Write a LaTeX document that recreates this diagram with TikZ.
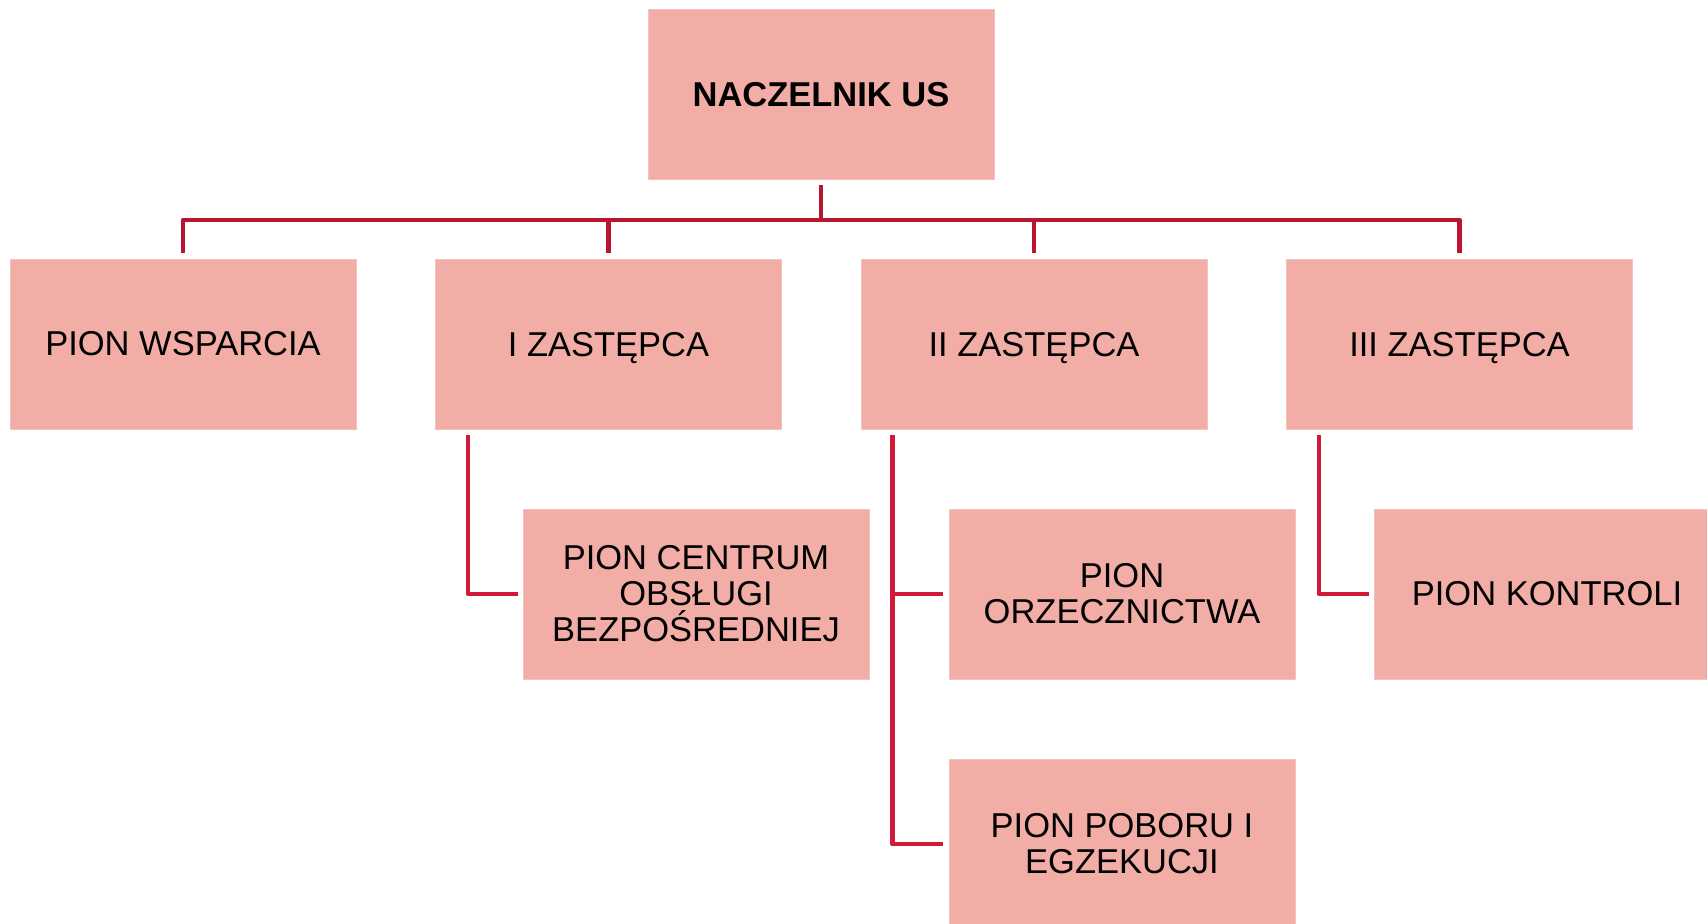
\documentclass[tikz,border=0pt]{standalone}
\usepackage{fontspec}
\setmainfont{Liberation Sans}
\definecolor{boxfill}{HTML}{F2ADA6}
\definecolor{boxedge}{HTML}{F5C3BE}
\definecolor{busred}{HTML}{BA1530}
\definecolor{subred}{HTML}{D01A37}
\begin{document}
\begin{tikzpicture}[x=0.5pt,y=-0.5pt,
  unit/.style={rectangle,fill=boxfill,draw=boxedge,line width=0.4pt,
    minimum width=173pt,minimum height=85pt,inner sep=0pt,align=center,
    font=\fontsize{17.25}{18}\selectfont},
  nodepth/.style={text depth=0pt},
  bus/.style={draw=busred,line width=2.35pt,line join=round},
  sub/.style={draw=subred,line width=2.35pt,line join=round}]
\useasboundingbox (0,0) rectangle (1707,923);
\begin{scope}
\clip (0,0) rectangle (1707,923);
\node[unit,font=\fontsize{17.25}{18}\selectfont\bfseries] (top) at (821,94.5) {NACZELNIK US};
\node[unit] (wsp) at (183,344) {PION WSPARCIA};
\node[unit,nodepth] (z1) at (608.5,344) {I ZASTĘPCA};
\node[unit,nodepth] (z2) at (1034,344) {II ZASTĘPCA};
\node[unit,nodepth] (z3) at (1459.5,344) {III ZASTĘPCA};
\node[unit] (cob) at (696,594) {PION CENTRUM\\OBSŁUGI\\BEZPOŚREDNIEJ};
\node[unit] (orz) at (1122,594) {PION\\ORZECZNICTWA};
\node[unit] (pob) at (1122,844) {PION POBORU I\\EGZEKUCJI};
\node[unit] (kon) at (1547,594) {PION KONTROLI};
\coordinate (bus) at (821,220);
\draw[bus] ([yshift=-2.5pt]top.south) -- (bus);
\draw[bus] ([yshift=3pt]wsp.north) |- (bus) -| ([yshift=3pt]z3.north);
\draw[bus] ([yshift=3pt]z1.north) -- (z1.north |- bus);
\draw[bus] ([yshift=3pt]z2.north) -- (z2.north |- bus);
\draw[sub] ([xshift=16.5pt,yshift=-3pt]z1.south west) |- ([xshift=-2.5pt]cob.west);
\draw[sub] ([xshift=16pt,yshift=-3pt]z2.south west) |- ([xshift=-3pt]pob.west);
\draw[sub] ([xshift=16pt]z2.south west |- orz.west) -- ([xshift=-3pt]orz.west);
\draw[sub] ([xshift=16.5pt,yshift=-3pt]z3.south west) |- ([xshift=-2.5pt]kon.west);
\end{scope}
\end{tikzpicture}
\end{document}
